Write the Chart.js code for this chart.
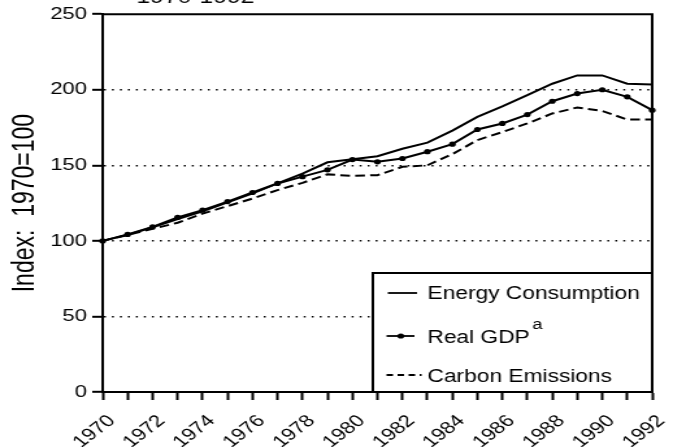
<!DOCTYPE html>
<html>
<head>
<meta charset="utf-8">
<script src="https://cdn.jsdelivr.net/npm/chart.js@4.4.1/dist/chart.umd.min.js"></script>
<style>
  html, body { margin: 0; padding: 0; background: #fff; overflow: hidden; }
  /* the source scan is stretched sideways, so draw narrow and widen */
  #wrap { width: 518px; height: 447px; transform: scaleX(1.2992); transform-origin: 0 0; }
</style>
</head>
<body>
<div id="wrap"><canvas id="chart"></canvas></div>
<script>
  // ── Data (index, 1970 = 100) ─────────────────────────────────────────────
  const years = [1970, 1971, 1972, 1973, 1974, 1975, 1976, 1977, 1978, 1979, 1980, 1981,
                 1982, 1983, 1984, 1985, 1986, 1987, 1988, 1989, 1990, 1991, 1992];
  const energyConsumption = [100, 104, 109, 114.5, 119.5, 125.5, 131.5, 138, 144.5, 152, 154, 156,
                             161, 165, 173, 182, 189, 196.5, 204, 209.5, 209.5, 204, 203.5];
  const realGdp = [100, 104.3, 109.3, 115.5, 120.3, 126, 132, 138, 142.5, 147, 153.8, 152.3,
                   154.5, 159, 164, 173.7, 177.7, 183.6, 192.4, 197.5, 200, 195.3, 186.5];
  const carbonEmissions = [100, 104, 108, 112, 118, 123, 128, 133.6, 138.4, 144, 143, 143.5,
                           149, 150, 157.4, 166.7, 172, 177.7, 184.3, 188.3, 186, 180.3, 180.3];
  const yTicks = [0, 50, 100, 150, 200, 250];

  const FONT = "'Liberation Sans', Arial, sans-serif";

  // ── Frame, clipped heading and legend box ────────────────────────────────
  const decorPlugin = {
    id: 'decor',
    afterDraw(chart) {
      const { ctx, chartArea: a } = chart;
      ctx.save();
      ctx.strokeStyle = '#000';
      ctx.lineWidth = 2;
      ctx.beginPath();
      ctx.moveTo(a.left, a.top);
      ctx.lineTo(a.right, a.top);
      ctx.lineTo(a.right, a.bottom);
      ctx.stroke();

      // heading sits mostly above the picture
      ctx.fillStyle = '#000';
      ctx.font = `19px ${FONT}`;
      ctx.textBaseline = 'alphabetic';
      ctx.fillText('1970-1992', 105, 3);

      // legend
      const bw = 215, bh = 119;
      const bx = a.right - bw, by = a.bottom - bh;
      ctx.fillStyle = '#fff';
      ctx.fillRect(bx, by, bw, bh);
      ctx.strokeRect(bx, by, bw, bh);

      const tx = bx + 42;
      ctx.fillStyle = '#000';
      ctx.font = `17.5px ${FONT}`;
      ctx.lineWidth = 1.8;

      ctx.beginPath();
      ctx.moveTo(bx + 11.5, by + 20); ctx.lineTo(bx + 34, by + 20);
      ctx.stroke();
      ctx.fillText('Energy Consumption', tx, by + 26);

      ctx.beginPath();
      ctx.moveTo(bx + 10.5, by + 63); ctx.lineTo(bx + 32, by + 63);
      ctx.stroke();
      ctx.beginPath();
      ctx.arc(bx + 21.5, by + 63, 2.6, 0, Math.PI * 2);
      ctx.fill();
      ctx.fillText('Real GDP', tx, by + 70);
      const w = ctx.measureText('Real GDP').width;
      ctx.font = `14px ${FONT}`;
      ctx.fillText('a', tx + w + 2, by + 56);

      ctx.font = `17.5px ${FONT}`;
      ctx.setLineDash([5, 3.5]);
      ctx.beginPath();
      ctx.moveTo(bx + 10.5, by + 102); ctx.lineTo(bx + 37.5, by + 102);
      ctx.stroke();
      ctx.setLineDash([]);
      ctx.fillText('Carbon Emissions', tx, by + 108.5);
      ctx.restore();
    },
  };

  new Chart(document.getElementById('chart'), {
    type: 'line',
    data: {
      labels: years,
      datasets: [
        {
          label: 'Energy Consumption',
          data: energyConsumption,
          borderColor: '#000',
          borderWidth: 2,
          pointRadius: 0,
          tension: 0,
        },
        {
          label: 'Real GDP',
          data: realGdp,
          borderColor: '#000',
          backgroundColor: '#000',
          borderWidth: 2,
          pointRadius: 2.6,
          pointBorderWidth: 0,
          tension: 0,
        },
        {
          label: 'Carbon Emissions',
          data: carbonEmissions,
          borderColor: '#000',
          borderWidth: 2,
          borderDash: [7.5, 4],
          pointRadius: 0,
          tension: 0,
        },
      ],
    },
    options: {
      responsive: true,
      maintainAspectRatio: false,
      animation: false,
      events: [],
      layout: { padding: { top: 14, right: 16, left: 0, bottom: 0 } },
      plugins: {
        legend: { display: false },
        tooltip: { enabled: false },
      },
      scales: {
        x: {
          type: 'category',
          offset: false,
          border: { display: true, color: '#000', width: 2 },
          grid: {
            drawOnChartArea: false,
            drawTicks: true,
            tickLength: 8,
            tickColor: '#000',
            tickWidth: 2,
          },
          ticks: {
            autoSkip: false,
            maxRotation: 45,
            minRotation: 45,
            padding: 11,
            labelOffset: 7,
            color: '#000',
            font: { family: FONT, size: 17 },
            callback: (v, i) => (years[i] % 2 === 0 ? String(years[i]) : ''),
          },
          afterFit: scale => {
            scale.height = 55;
            scale.paddingLeft = 0;
            scale.paddingRight = 0;
          },
        },
        y: {
          min: 0,
          max: 250,
          afterBuildTicks: scale => { scale.ticks = yTicks.map(v => ({ value: v })); },
          border: { display: true, color: '#000', width: 2, dash: [1.5, 4.65] },
          grid: {
            color: c => (c.tick && c.tick.value > 0 && c.tick.value < 250 ? '#000' : 'rgba(0,0,0,0)'),
            lineWidth: 1.6,
            tickLength: 8,
            tickColor: '#000',
            tickWidth: 2,
            tickBorderDash: [],
          },
          ticks: {
            padding: 4,
            color: '#000',
            font: { family: FONT, size: 17 },
          },
          title: {
            display: true,
            text: 'Index:  1970=100',
            color: '#000',
            font: { family: FONT, size: 23 },
            padding: { top: 6, bottom: 4 },
          },
          afterFit: scale => { scale.width = 79; },
        },
      },
    },
    plugins: [decorPlugin],
  });
</script>
</body>
</html>
